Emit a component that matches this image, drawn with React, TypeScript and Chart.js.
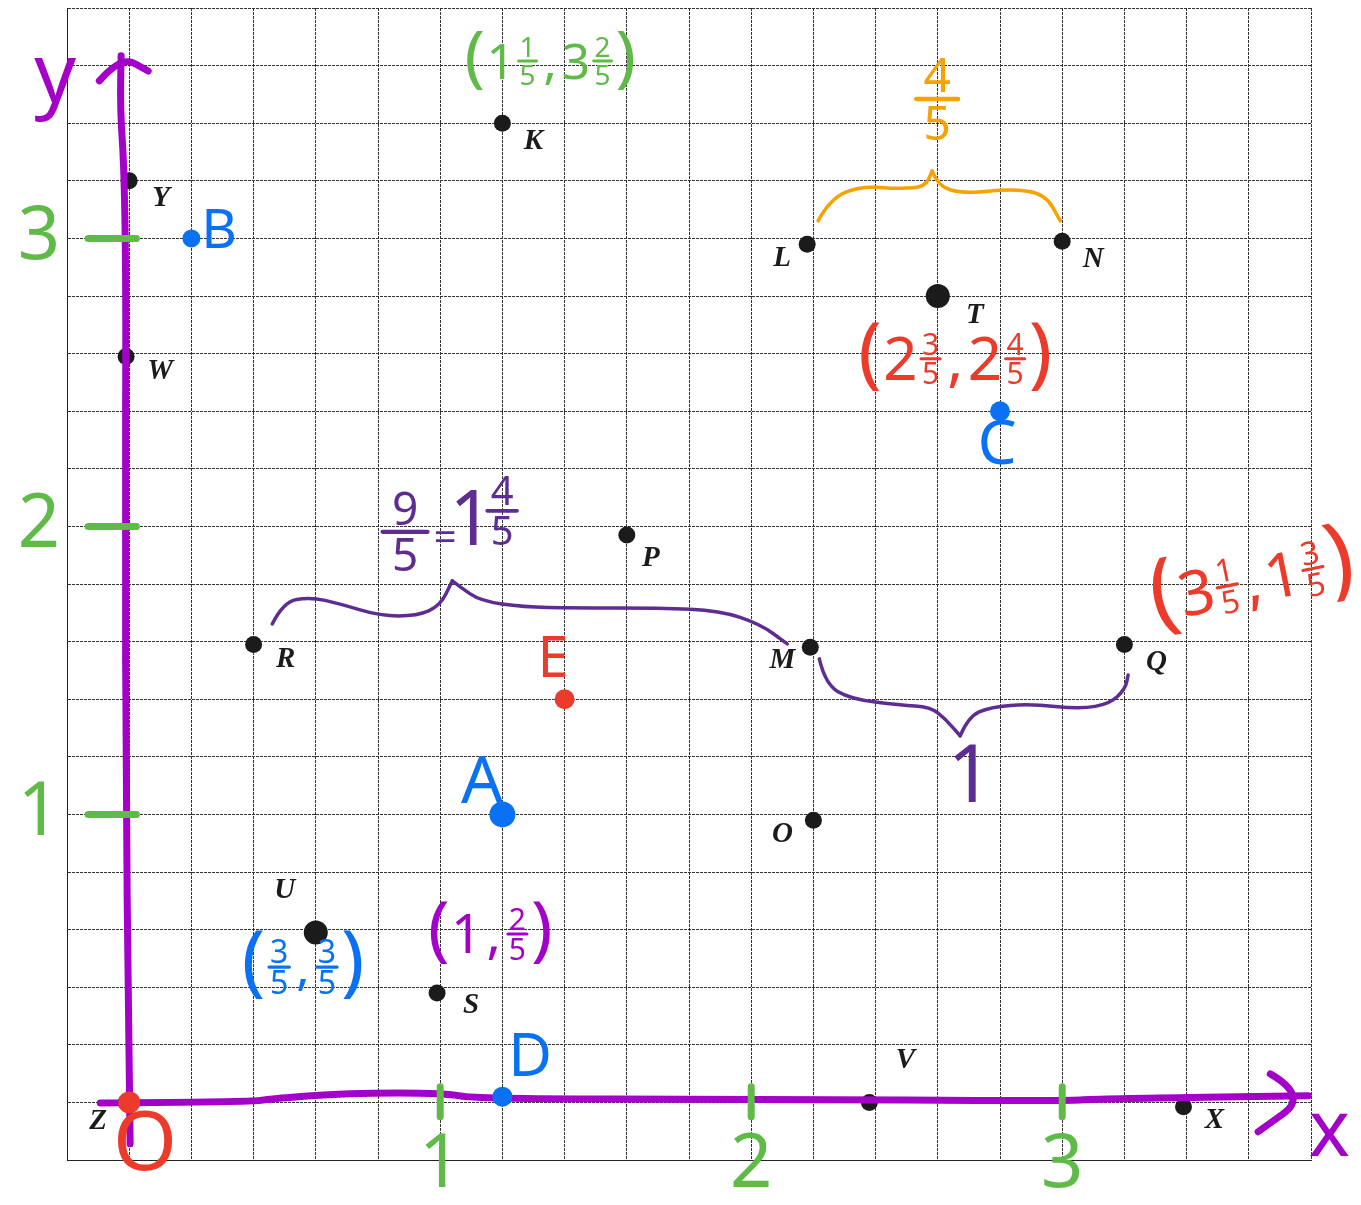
import React, { useEffect, useRef } from 'react';
import { Chart, registerables } from 'chart.js';

Chart.register(...registerables);

// ---------- data ----------
const pointNames = ['K', 'Y', 'W', 'L', 'N', 'T', 'P', 'R', 'M', 'Q', 'O', 'U', 'S', 'V', 'X', 'Z'];
const pointX = [1.2, 0, -0.01, 2.18, 3.0, 2.6, 1.6, 0.4, 2.19, 3.2, 2.2, 0.6, 0.99, 2.38, 3.39, -0.01];
const pointY = [3.4, 3.2, 2.59, 2.98, 2.99, 2.8, 1.97, 1.59, 1.58, 1.59, 0.98, 0.59, 0.38, 0.0, -0.015, 0.0];

const markNames = ['A', 'B', 'C', 'D', 'E'];
const markX = [1.2, 0.2, 2.8, 1.2, 1.4];
const markY = [1.0, 3.0, 2.4, 0.02, 1.4];

const originX = [0];
const originY = [0];

const axisNumbers = [1, 2, 3];
const axisMin = -0.2;
const axisMax = 3.8;
const gridStep = 0.2;

type P = [number, number];

// hand-drawn annotation paths (data coordinates)
const yAxisPath: P[] = [[0.003, -0.144], [-0.003, 0.36], [-0.01, 1.05], [-0.013, 2.03], [-0.01, 2.79], [-0.016, 3.24], [-0.029, 3.45], [-0.026, 3.634]];
const yArrow: P[] = [[-0.096, 3.547], [-0.026, 3.634], [0.061, 3.581]];
const xAxisPath: P[] = [[-0.093, -0.002], [0.399, 0.002], [0.444, 0.012], [0.701, 0.033], [1.023, 0.033], [1.106, 0.012], [1.997, 0.012], [2.994, 0.005], [3.122, 0.012], [3.791, 0.023]];
const xArrow: P[] = [[3.669, 0.099], [3.791, 0.023], [3.63, -0.102]];

const orangeBraceL: P[] = [[2.215, 3.061], [2.254, 3.137], [2.35, 3.182], [2.479, 3.172], [2.559, 3.179], [2.582, 3.234]];
const orangeBraceR: P[] = [[2.582, 3.234], [2.601, 3.179], [2.688, 3.155], [2.833, 3.172], [2.945, 3.155], [2.994, 3.061]];
const longBraceL: P[] = [[0.46, 1.661], [0.495, 1.738], [0.582, 1.755], [0.678, 1.731], [0.807, 1.689], [0.926, 1.689], [1.0, 1.724], [1.039, 1.811]];
const longBraceR: P[] = [[1.039, 1.811], [1.064, 1.79], [1.129, 1.741], [1.267, 1.72], [1.428, 1.717], [1.707, 1.717], [1.9, 1.707], [2.029, 1.661], [2.116, 1.592]];
const unitBraceL: P[] = [[2.219, 1.54], [2.238, 1.453], [2.318, 1.401], [2.479, 1.38], [2.576, 1.373], [2.624, 1.332], [2.672, 1.273]];
const unitBraceR: P[] = [[2.672, 1.273], [2.698, 1.339], [2.768, 1.373], [2.897, 1.384], [3.058, 1.366], [3.154, 1.384], [3.203, 1.436], [3.212, 1.484]];

// ---------- styles ----------
const HAND = '"Noto Sans", sans-serif';
const PURPLE = '#a300c9';
const DEEP = '#5d2d92';
const GREEN = '#5fba47';
const RED = '#ec3a2b';
const BLUE = '#0a72f2';
const ORANGE = '#f8a100';

const labelOffsets: Record<string, P> = {
  K: [31, 18], Y: [32, 18], W: [34, 15], L: [-25, 14], N: [31, 18], T: [37, 20], P: [24, 23], R: [32, 15],
  M: [-28, 13], Q: [32, 18], O: [-31, 14], U: [-31, -42], S: [34, 13], V: [36, -42], X: [31, 14], Z: [-28, 19],
};

type Tok = ['p', string] | ['w', string] | ['f', string, string] | [','];

function px(chart: any, p: P): P {
  return [chart.scales.x.getPixelForValue(p[0]), chart.scales.y.getPixelForValue(p[1])];
}

function strokeSmooth(ctx: CanvasRenderingContext2D, pts: P[]) {
  ctx.beginPath();
  ctx.moveTo(pts[0][0], pts[0][1]);
  for (let i = 1; i < pts.length - 1; i++) {
    const mx = (pts[i][0] + pts[i + 1][0]) / 2;
    const my = (pts[i][1] + pts[i + 1][1]) / 2;
    ctx.quadraticCurveTo(pts[i][0], pts[i][1], mx, my);
  }
  const l = pts[pts.length - 1];
  ctx.lineTo(l[0], l[1]);
  ctx.stroke();
}

function handLine(chart: any, pts: P[], color: string, width: number) {
  const ctx: CanvasRenderingContext2D = chart.ctx;
  ctx.save();
  ctx.strokeStyle = color;
  ctx.lineWidth = width;
  ctx.lineCap = 'round';
  ctx.lineJoin = 'round';
  strokeSmooth(ctx, pts.map((p) => px(chart, p)));
  ctx.restore();
}

function text(ctx: CanvasRenderingContext2D, s: string, x: number, y: number, size: number, color: string, baseline: CanvasTextBaseline = 'middle') {
  ctx.save();
  ctx.font = `${size}px ${HAND}`;
  ctx.fillStyle = color;
  ctx.textAlign = 'center';
  ctx.textBaseline = baseline;
  ctx.fillText(s, x, y);
  ctx.restore();
}

function frac(ctx: CanvasRenderingContext2D, cx: number, by: number, n: string, d: string, size: number, barW: number, color: string) {
  ctx.save();
  ctx.font = `${size}px ${HAND}`;
  ctx.fillStyle = color;
  ctx.strokeStyle = color;
  ctx.textAlign = 'center';
  ctx.textBaseline = 'alphabetic';
  const gap = size * 0.14;
  ctx.fillText(n, cx, by - gap);
  ctx.fillText(d, cx, by + gap + size * 0.714);
  ctx.lineWidth = Math.max(2.5, size * 0.09);
  ctx.lineCap = 'round';
  ctx.beginPath();
  ctx.moveTo(cx - barW / 2, by);
  ctx.lineTo(cx + barW / 2, by);
  ctx.stroke();
  ctx.restore();
}

function tuple(ctx: CanvasRenderingContext2D, cx: number, cy: number, toks: Tok[], color: string, W: number, F: number, Pz: number, rot = 0) {
  ctx.save();
  ctx.translate(cx, cy);
  ctx.rotate(rot);
  ctx.fillStyle = color;
  ctx.strokeStyle = color;
  ctx.textAlign = 'center';
  const font = (s: number) => `${s}px ${HAND}`;
  const widths = toks.map((t) => {
    if (t[0] === 'p') { ctx.font = font(Pz); return ctx.measureText(t[1]).width + 2; }
    if (t[0] === 'w') { ctx.font = font(W); return ctx.measureText(t[1]).width + 1; }
    if (t[0] === 'f') { ctx.font = font(F); return Math.max(ctx.measureText(t[1]).width, ctx.measureText(t[2]).width) + 8; }
    ctx.font = font(W); return ctx.measureText(',').width + 8;
  });
  const total = widths.reduce((a, b) => a + b, 0);
  let x = -total / 2;
  toks.forEach((t, i) => {
    const w = widths[i];
    const mid = x + w / 2;
    if (t[0] === 'p') {
      ctx.font = font(Pz); ctx.textBaseline = 'alphabetic'; ctx.fillText(t[1], mid, Pz * 0.26);
    } else if (t[0] === 'w') {
      ctx.font = font(W); ctx.textBaseline = 'alphabetic'; ctx.fillText(t[1], mid, W * 0.357);
    } else if (t[0] === 'f') {
      ctx.font = font(F); ctx.textBaseline = 'alphabetic';
      const gap = F * 0.14;
      ctx.fillText(t[1], mid, -gap);
      ctx.fillText(t[2], mid, gap + F * 0.714);
      ctx.lineWidth = Math.max(2.5, F * 0.1);
      ctx.lineCap = 'round';
      ctx.beginPath();
      ctx.moveTo(mid - w / 2 + 3, 0);
      ctx.lineTo(mid + w / 2 - 3, 0);
      ctx.stroke();
    } else {
      ctx.font = font(W); ctx.textBaseline = 'alphabetic'; ctx.fillText(',', mid, W * 0.357);
    }
    x += w;
  });
  ctx.restore();
}

const handPlugin = {
  id: 'hand',
  afterDatasetDraw(chart: any, args: any) {
    if (args.index !== 2) return;
    // purple axes
    handLine(chart, yAxisPath, PURPLE, 7);
    handLine(chart, yArrow, PURPLE, 7);
    handLine(chart, xAxisPath, PURPLE, 7);
    handLine(chart, xArrow, PURPLE, 7);
    // green tick marks
    axisNumbers.forEach((v) => {
      handLine(chart, [[v, 0.054], [v, -0.05]], GREEN, 7);
      handLine(chart, [[-0.132, v], [0.023, v]], GREEN, 7);
    });
  },
  afterDatasetsDraw(chart: any) {
    const ctx: CanvasRenderingContext2D = chart.ctx;
    const X = (v: number) => chart.scales.x.getPixelForValue(v);
    const Y = (v: number) => chart.scales.y.getPixelForValue(v);

    // black point labels
    ctx.save();
    ctx.font = 'bold italic 29px "Liberation Serif", serif';
    ctx.fillStyle = '#1b1b1b';
    ctx.textAlign = 'center';
    ctx.textBaseline = 'middle';
    pointNames.forEach((n, i) => {
      const o = labelOffsets[n];
      ctx.fillText(n, X(pointX[i]) + o[0], Y(pointY[i]) + o[1]);
    });
    ctx.restore();

    // green axis numbers
    axisNumbers.forEach((v) => {
      text(ctx, String(v), X(v), Y(-0.22), 74, GREEN);
      text(ctx, String(v), X(-0.29), Y(v), 74, GREEN);
    });

    // axis letters
    text(ctx, 'y', X(-0.238), Y(3.474), 82, PURPLE, 'alphabetic');
    text(ctx, 'x', X(3.859), Y(-0.186), 78, PURPLE, 'alphabetic');
    text(ctx, 'O', X(0.051), Y(-0.155), 82, RED);

    // marked point letters
    text(ctx, 'B', X(0.289), Y(3.022), 55, BLUE);
    text(ctx, 'C', X(2.791), Y(2.279), 62, BLUE);
    text(ctx, 'A', X(1.135), Y(1.106), 66, BLUE);
    text(ctx, 'D', X(1.289), Y(0.151), 60, BLUE);
    text(ctx, 'E', X(1.363), Y(1.533), 56, RED);

    // braces
    handLine(chart, orangeBraceL, ORANGE, 3.5);
    handLine(chart, orangeBraceR, ORANGE, 3.5);
    handLine(chart, longBraceL, DEEP, 3.5);
    handLine(chart, longBraceR, DEEP, 3.5);
    handLine(chart, unitBraceL, DEEP, 3.5);
    handLine(chart, unitBraceR, DEEP, 3.5);

    // brace labels
    frac(ctx, X(2.598), Y(3.484), '4', '5', 48, 42, ORANGE);
    frac(ctx, X(0.887), Y(1.981), '9', '5', 46, 45, DEEP);
    text(ctx, '=', X(1.016), Y(1.953), 40, DEEP);
    text(ctx, '1', X(1.1), Y(2.009), 76, DEEP);
    frac(ctx, X(1.199), Y(2.054), '4', '5', 40, 30, DEEP);
    text(ctx, '1', X(2.704), Y(1.123), 80, DEEP);

    // coordinate annotations
    tuple(ctx, X(1.354), Y(3.616), [['p', '('], ['w', '1'], ['f', '1', '5'], [','], ['w', '3'], ['f', '2', '5'], ['p', ')']], GREEN, 50, 28, 68);
    tuple(ctx, X(2.656), Y(2.582), [['p', '('], ['w', '2'], ['f', '3', '5'], [','], ['w', '2'], ['f', '4', '5'], ['p', ')']], RED, 60, 30, 78);
    tuple(ctx, X(3.611), Y(1.811), [['p', '('], ['w', '3'], ['f', '1', '5'], [','], ['w', '1'], ['f', '3', '5'], ['p', ')']], RED, 62, 32, 90, -0.2);
    tuple(ctx, X(0.559), Y(0.47), [['p', '('], ['f', '3', '5'], [','], ['f', '3', '5'], ['p', ')']], BLUE, 50, 32, 78);
    tuple(ctx, X(1.161), Y(0.585), [['p', '('], ['w', '1'], [','], ['f', '2', '5'], ['p', ')']], PURPLE, 54, 30, 72);
  },
};

export default function App() {
  const ref = useRef<HTMLCanvasElement>(null);
  useEffect(() => {
    const canvas = ref.current;
    if (!canvas) return;
    const gridScale = {
      type: 'linear' as const,
      min: axisMin,
      max: axisMax,
      ticks: { stepSize: gridStep, display: false },
      grid: { color: '#333', lineWidth: 1, drawTicks: false },
      border: { display: true, color: '#222', width: 1, dash: [3, 1] },
    };
    const chart = new Chart(canvas, {
      type: 'scatter',
      data: {
        datasets: [
          {
            label: 'Origin',
            data: originX.map((x, i) => ({ x, y: originY[i] })),
            backgroundColor: RED,
            borderWidth: 0,
            pointRadius: 11,
          },
          {
            label: 'Marked',
            data: markX.map((x, i) => ({ x, y: markY[i] })),
            backgroundColor: markNames.map((n) => (n === 'E' ? RED : BLUE)),
            borderWidth: 0,
            pointRadius: markNames.map((n) => (n === 'A' ? 13 : n === 'B' ? 9 : 10)),
          },
          {
            label: 'Points',
            data: pointX.map((x, i) => ({ x, y: pointY[i] })),
            backgroundColor: '#1b1b1b',
            borderWidth: 0,
            pointRadius: pointNames.map((n) => (n === 'T' || n === 'U' ? 12 : 8.5)),
          },
        ],
      },
      options: {
        animation: false,
        responsive: false,
        layout: { autoPadding: false, padding: { left: 67, top: 8, right: 50, bottom: 45 } },
        plugins: { legend: { display: false }, tooltip: { enabled: false } },
        events: [],
        scales: { x: gridScale, y: gridScale },
      },
      plugins: [handPlugin],
    } as any);
    return () => chart.destroy();
  }, []);
  return (
    <canvas
      ref={ref}
      width={1361}
      height={1205}
      style={{ position: 'absolute', left: 0, top: 0, display: 'block' }}
    />
  );
}
